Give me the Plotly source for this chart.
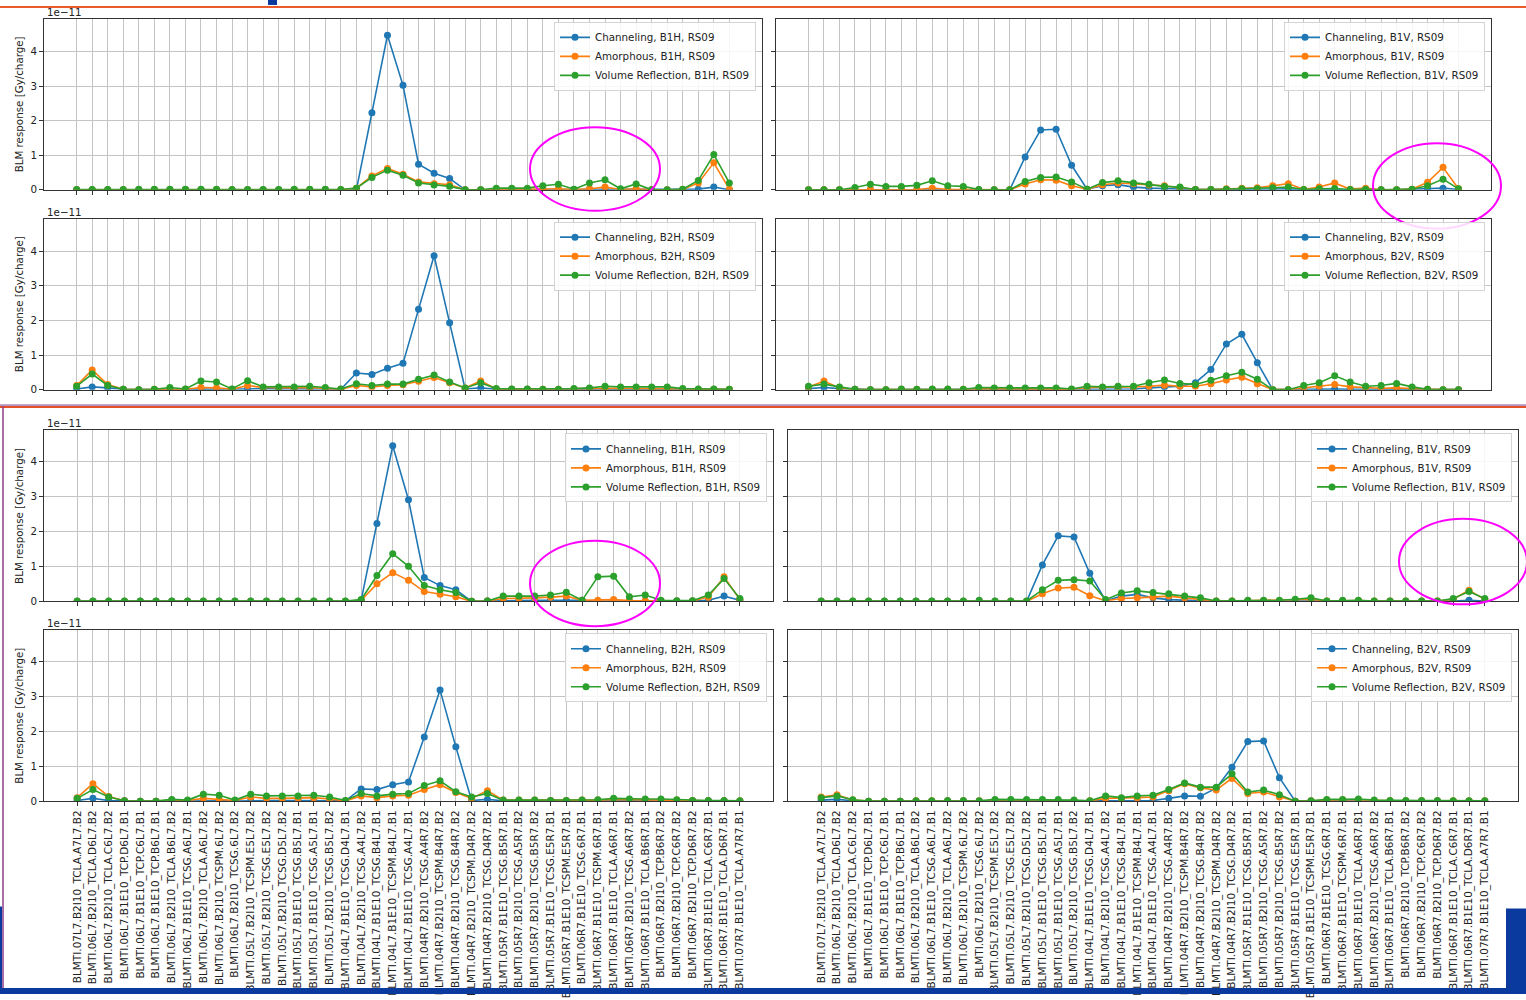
import plotly.graph_objects as go

W, H = 1526, 1000

# BLM monitors along IR7 (x axis categories)
monitors = [
    "BLMTI.07L7.B2I10_TCLA.A7L7.B2", "BLMTI.06L7.B2I10_TCLA.D6L7.B2", "BLMTI.06L7.B2I10_TCLA.C6L7.B2",
    "BLMTI.06L7.B1E10_TCP.D6L7.B1", "BLMTI.06L7.B1E10_TCP.C6L7.B1", "BLMTI.06L7.B1E10_TCP.B6L7.B1",
    "BLMTI.06L7.B2I10_TCLA.B6L7.B2", "BLMTI.06L7.B1E10_TCSG.A6L7.B1", "BLMTI.06L7.B2I10_TCLA.A6L7.B2",
    "BLMTI.06L7.B2I10_TCSPM.6L7.B2", "BLMTI.06L7.B2I10_TCSG.6L7.B2", "BLMTI.05L7.B2I10_TCSPM.E5L7.B2",
    "BLMTI.05L7.B2I10_TCSG.E5L7.B2", "BLMTI.05L7.B2I10_TCSG.D5L7.B2", "BLMTI.05L7.B1E10_TCSG.B5L7.B1",
    "BLMTI.05L7.B1E10_TCSG.A5L7.B1", "BLMTI.05L7.B2I10_TCSG.B5L7.B2", "BLMTI.04L7.B1E10_TCSG.D4L7.B1",
    "BLMTI.04L7.B2I10_TCSG.A4L7.B2", "BLMTI.04L7.B1E10_TCSG.B4L7.B1", "BLMTI.04L7.B1E10_TCSPM.B4L7.B1",
    "BLMTI.04L7.B1E10_TCSG.A4L7.B1", "BLMTI.04R7.B2I10_TCSG.A4R7.B2", "BLMTI.04R7.B2I10_TCSPM.B4R7.B2",
    "BLMTI.04R7.B2I10_TCSG.B4R7.B2", "BLMTI.04R7.B2I10_TCSPM.D4R7.B2", "BLMTI.04R7.B2I10_TCSG.D4R7.B2",
    "BLMTI.05R7.B1E10_TCSG.B5R7.B1", "BLMTI.05R7.B2I10_TCSG.A5R7.B2", "BLMTI.05R7.B2I10_TCSG.B5R7.B2",
    "BLMTI.05R7.B1E10_TCSG.E5R7.B1", "BLMTI.05R7.B1E10_TCSPM.E5R7.B1", "BLMTI.06R7.B1E10_TCSG.6R7.B1",
    "BLMTI.06R7.B1E10_TCSPM.6R7.B1", "BLMTI.06R7.B1E10_TCLA.A6R7.B1", "BLMTI.06R7.B2I10_TCSG.A6R7.B2",
    "BLMTI.06R7.B1E10_TCLA.B6R7.B1", "BLMTI.06R7.B2I10_TCP.B6R7.B2", "BLMTI.06R7.B2I10_TCP.C6R7.B2",
    "BLMTI.06R7.B2I10_TCP.D6R7.B2", "BLMTI.06R7.B1E10_TCLA.C6R7.B1", "BLMTI.06R7.B1E10_TCLA.D6R7.B1",
    "BLMTI.07R7.B1E10_TCLA.A7R7.B1",
]

# BLM response in units of 1e-11 Gy/charge -- first simulation set
b1h_ch_a = [0, 0, 0, 0, 0, 0, 0, 0, 0, 0, 0, 0, 0, 0, 0, 0, 0, 0, 0, 2.23, 4.47, 3.02, 0.74, 0.48, 0.33, 0, 0, 0, 0.01, 0.01, 0.02, 0.02, 0.01, 0.02, 0.02, 0.01, 0.01, 0, 0, 0.01, 0.02, 0.08, 0]
b1h_am_a = [0, 0, 0, 0, 0.01, 0.01, 0.01, 0.01, 0.01, 0.01, 0, 0, 0, 0, 0.01, 0.01, 0.01, 0, 0.05, 0.40, 0.62, 0.45, 0.23, 0.18, 0.15, 0, 0, 0.02, 0.02, 0.02, 0.02, 0.03, 0.01, 0.03, 0.08, 0.01, 0.03, 0, 0, 0.01, 0.20, 0.78, 0.02]
b1h_vr_a = [0.01, 0.01, 0.01, 0.01, 0.02, 0.02, 0.02, 0.02, 0.02, 0.02, 0.01, 0.01, 0.01, 0.01, 0.02, 0.02, 0.02, 0.01, 0.05, 0.36, 0.57, 0.42, 0.20, 0.14, 0.10, 0, 0, 0.05, 0.05, 0.05, 0.12, 0.16, 0.02, 0.20, 0.29, 0.03, 0.17, 0, 0, 0.02, 0.27, 1.02, 0.20]

b1v_ch_a = [0, 0, 0, 0, 0, 0, 0, 0, 0, 0, 0, 0, 0, 0, 0.95, 1.73, 1.75, 0.71, 0.02, 0.12, 0.15, 0.08, 0.05, 0.03, 0.02, 0.01, 0.01, 0.01, 0.01, 0.01, 0.02, 0.03, 0, 0.01, 0.01, 0, 0.01, 0, 0, 0.01, 0.02, 0.05, 0.01]
b1v_am_a = [0, 0, 0, 0.01, 0.02, 0.02, 0.01, 0.01, 0.05, 0.01, 0.01, 0, 0, 0, 0.17, 0.29, 0.28, 0.12, 0.02, 0.15, 0.20, 0.18, 0.14, 0.12, 0.06, 0.01, 0.01, 0.03, 0.05, 0.06, 0.12, 0.18, 0.01, 0.08, 0.20, 0.02, 0.05, 0, 0, 0.02, 0.22, 0.65, 0.03]
b1v_vr_a = [0, 0, 0, 0.07, 0.16, 0.10, 0.10, 0.13, 0.26, 0.12, 0.10, 0.01, 0, 0, 0.24, 0.36, 0.37, 0.23, 0.02, 0.21, 0.26, 0.20, 0.16, 0.10, 0.08, 0.01, 0.01, 0.02, 0.03, 0.03, 0.06, 0.08, 0.01, 0.03, 0.04, 0.01, 0.02, 0, 0, 0.02, 0.12, 0.31, 0.03]

b2h_ch_a = [0.02, 0.08, 0.05, 0.01, 0, 0, 0.01, 0.01, 0.01, 0.01, 0.01, 0.02, 0.03, 0.02, 0.02, 0.02, 0.02, 0.01, 0.48, 0.44, 0.62, 0.76, 2.32, 3.87, 1.93, 0.02, 0.05, 0.01, 0.01, 0.01, 0, 0, 0, 0, 0.01, 0.01, 0.01, 0.01, 0.01, 0, 0, 0, 0]
b2h_am_a = [0.12, 0.57, 0.15, 0.01, 0, 0.01, 0.02, 0.01, 0.06, 0.05, 0.01, 0.12, 0.06, 0.05, 0.05, 0.06, 0.04, 0.01, 0.12, 0.08, 0.12, 0.14, 0.24, 0.35, 0.20, 0.05, 0.25, 0.02, 0.01, 0.01, 0.01, 0.01, 0.02, 0.03, 0.04, 0.04, 0.04, 0.04, 0.04, 0.02, 0.01, 0.01, 0.01]
b2h_vr_a = [0.10, 0.45, 0.12, 0.01, 0, 0.01, 0.06, 0.02, 0.25, 0.22, 0.02, 0.26, 0.08, 0.08, 0.08, 0.10, 0.06, 0.02, 0.17, 0.12, 0.16, 0.16, 0.30, 0.42, 0.22, 0.05, 0.20, 0.03, 0.02, 0.02, 0.01, 0.01, 0.03, 0.05, 0.10, 0.08, 0.08, 0.08, 0.08, 0.03, 0.02, 0.02, 0.01]

b2v_ch_a = [0.03, 0.06, 0.03, 0.01, 0, 0, 0, 0, 0, 0, 0, 0.01, 0.01, 0.01, 0.01, 0.01, 0.01, 0, 0.02, 0.02, 0.02, 0.02, 0.05, 0.08, 0.10, 0.20, 0.58, 1.32, 1.60, 0.78, 0, 0, 0.01, 0.01, 0.02, 0.01, 0.01, 0.01, 0.01, 0, 0, 0, 0]
b2v_am_a = [0.08, 0.25, 0.05, 0.01, 0, 0, 0.01, 0.01, 0.01, 0.01, 0.01, 0.03, 0.03, 0.03, 0.03, 0.03, 0.03, 0.01, 0.06, 0.06, 0.08, 0.08, 0.10, 0.13, 0.10, 0.10, 0.17, 0.28, 0.36, 0.17, 0, 0, 0.05, 0.10, 0.15, 0.08, 0.05, 0.04, 0.05, 0.02, 0.01, 0, 0]
b2v_vr_a = [0.10, 0.16, 0.08, 0.01, 0, 0, 0.02, 0.01, 0.02, 0.02, 0.01, 0.06, 0.05, 0.05, 0.05, 0.05, 0.05, 0.02, 0.10, 0.08, 0.10, 0.10, 0.20, 0.28, 0.18, 0.15, 0.27, 0.40, 0.50, 0.30, 0, 0, 0.12, 0.20, 0.40, 0.22, 0.10, 0.12, 0.18, 0.08, 0.01, 0, 0]

# BLM response in units of 1e-11 Gy/charge -- second simulation set
b1h_ch_b = [0, 0, 0, 0, 0, 0, 0, 0, 0, 0, 0, 0, 0, 0, 0, 0, 0, 0, 0.03, 2.22, 4.44, 2.90, 0.68, 0.45, 0.33, 0, 0.01, 0.03, 0.03, 0.03, 0.03, 0.03, 0.03, 0, 0, 0, 0, 0.01, 0.01, 0.01, 0.03, 0.15, 0.03]
b1h_am_b = [0, 0, 0, 0, 0, 0, 0, 0, 0, 0, 0, 0, 0, 0, 0, 0, 0, 0, 0.03, 0.50, 0.82, 0.60, 0.28, 0.20, 0.13, 0, 0.01, 0.08, 0.08, 0.10, 0.12, 0.15, 0.03, 0.03, 0.05, 0.02, 0.02, 0.01, 0.01, 0.01, 0.12, 0.70, 0.05]
b1h_vr_b = [0.01, 0.01, 0.01, 0.01, 0.01, 0.01, 0.01, 0.01, 0.01, 0.01, 0.01, 0.01, 0.01, 0.01, 0.01, 0.01, 0.01, 0.01, 0.05, 0.74, 1.36, 1.00, 0.45, 0.33, 0.25, 0, 0.01, 0.15, 0.15, 0.15, 0.18, 0.26, 0.03, 0.70, 0.72, 0.13, 0.18, 0.03, 0.02, 0.02, 0.18, 0.65, 0.08]

b1v_ch_b = [0, 0, 0, 0, 0, 0, 0, 0, 0, 0, 0, 0, 0, 0, 1.04, 1.87, 1.84, 0.80, 0.02, 0.15, 0.20, 0.10, 0.05, 0.03, 0.01, 0, 0, 0.01, 0.01, 0.01, 0.01, 0.01, 0, 0.01, 0.01, 0, 0, 0, 0, 0, 0.01, 0.03, 0.01]
b1v_am_b = [0, 0, 0, 0, 0, 0, 0, 0, 0, 0, 0.01, 0, 0, 0, 0.22, 0.38, 0.40, 0.16, 0.02, 0.08, 0.10, 0.12, 0.15, 0.10, 0.06, 0.01, 0.01, 0.02, 0.02, 0.02, 0.04, 0.06, 0.01, 0.02, 0.02, 0.01, 0.01, 0.01, 0.01, 0.01, 0.06, 0.32, 0.05]
b1v_vr_b = [0.01, 0.01, 0.01, 0.01, 0.01, 0.01, 0.01, 0.01, 0.01, 0.01, 0.03, 0.01, 0.01, 0.01, 0.33, 0.60, 0.62, 0.58, 0.05, 0.24, 0.30, 0.25, 0.22, 0.15, 0.10, 0.01, 0.01, 0.03, 0.03, 0.03, 0.06, 0.10, 0.01, 0.03, 0.03, 0.01, 0.01, 0.01, 0.01, 0.01, 0.08, 0.28, 0.08]

b2h_ch_b = [0.02, 0.08, 0.02, 0.01, 0, 0, 0, 0, 0.01, 0.01, 0, 0.02, 0.02, 0.02, 0.02, 0.02, 0.02, 0.01, 0.35, 0.33, 0.47, 0.55, 1.83, 3.17, 1.55, 0.02, 0.05, 0.01, 0.01, 0.01, 0.01, 0.01, 0.01, 0.01, 0.01, 0.01, 0.01, 0.01, 0.01, 0.01, 0.01, 0.01, 0]
b2h_am_b = [0.10, 0.50, 0.13, 0.01, 0, 0, 0.03, 0.02, 0.08, 0.05, 0.02, 0.12, 0.08, 0.08, 0.08, 0.10, 0.06, 0.01, 0.15, 0.10, 0.15, 0.17, 0.33, 0.47, 0.25, 0.08, 0.30, 0.03, 0.03, 0.03, 0.02, 0.02, 0.03, 0.03, 0.05, 0.04, 0.04, 0.04, 0.03, 0.02, 0.01, 0.01, 0.01]
b2h_vr_b = [0.08, 0.33, 0.12, 0.01, 0, 0, 0.05, 0.03, 0.20, 0.17, 0.03, 0.20, 0.15, 0.15, 0.15, 0.17, 0.12, 0.02, 0.22, 0.15, 0.20, 0.22, 0.45, 0.58, 0.27, 0.12, 0.22, 0.03, 0.03, 0.03, 0.02, 0.02, 0.03, 0.04, 0.08, 0.06, 0.06, 0.06, 0.04, 0.02, 0.02, 0.02, 0.01]

b2v_ch_b = [0.03, 0.05, 0.01, 0, 0, 0, 0, 0, 0, 0, 0, 0, 0, 0, 0, 0, 0, 0, 0.02, 0.02, 0.02, 0.02, 0.08, 0.15, 0.14, 0.37, 0.97, 1.70, 1.72, 0.67, 0, 0, 0, 0, 0, 0, 0, 0, 0, 0, 0, 0, 0]
b2v_am_b = [0.12, 0.18, 0.03, 0, 0, 0, 0.01, 0.01, 0.01, 0.01, 0.01, 0.02, 0.02, 0.02, 0.02, 0.02, 0.02, 0.01, 0.08, 0.08, 0.10, 0.12, 0.30, 0.50, 0.38, 0.32, 0.65, 0.22, 0.26, 0.12, 0, 0.01, 0.03, 0.04, 0.04, 0.02, 0.01, 0.01, 0.01, 0.01, 0.01, 0.01, 0.01]
b2v_vr_b = [0.10, 0.15, 0.04, 0, 0, 0, 0.01, 0.01, 0.02, 0.02, 0.01, 0.05, 0.05, 0.05, 0.05, 0.05, 0.03, 0.01, 0.15, 0.10, 0.15, 0.17, 0.33, 0.52, 0.40, 0.40, 0.78, 0.26, 0.32, 0.18, 0, 0.01, 0.05, 0.05, 0.06, 0.03, 0.02, 0.02, 0.02, 0.02, 0.01, 0.01, 0.01]

COLORS = ["#1f77b4", "#ff7f0e", "#2ca02c"]
MODES = ["Channeling", "Amorphous", "Volume Reflection"]
FONT = "DejaVu Sans"


def fx(px):
    return px / W


def fy(py):
    return 1 - py / H


# panel geometry in pixels: (series, plane, left, right, top, bottom, y max, left column, labelled x)
panels = [
    ((b1h_ch_a, b1h_am_a, b1h_vr_a), "B1H", 44, 762, 19, 191, 4.94, True, False),
    ((b1v_ch_a, b1v_am_a, b1v_vr_a), "B1V", 776, 1491, 19, 191, 4.94, False, False),
    ((b2h_ch_a, b2h_am_a, b2h_vr_a), "B2H", 44, 762, 220, 392, 4.94, True, False),
    ((b2v_ch_a, b2v_am_a, b2v_vr_a), "B2V", 776, 1491, 220, 392, 4.94, False, False),
    ((b1h_ch_b, b1h_am_b, b1h_vr_b), "B1H", 44, 773, 433, 605, 4.88, True, False),
    ((b1v_ch_b, b1v_am_b, b1v_vr_b), "B1V", 788, 1518, 433, 605, 4.88, False, False),
    ((b2h_ch_b, b2h_am_b, b2h_vr_b), "B2H", 44, 773, 634, 806, 4.88, True, True),
    ((b2v_ch_b, b2v_am_b, b2v_vr_b), "B2V", 788, 1518, 634, 806, 4.88, False, True),
]

fig = go.Figure()
layout = {}
annotations = []
xs = list(range(len(monitors)))

for k, (series, plane, x0, x1, y0, y1, ymax, left_col, labelled) in enumerate(panels, start=1):
    sfx = "" if k == 1 else str(k)
    legend_id = "legend" + sfx
    for mode, vals, col in zip(MODES, series, COLORS):
        fig.add_trace(go.Scatter(
            x=xs, y=vals, mode="lines+markers",
            name=f"{mode}, {plane}, RS09",
            line=dict(color=col, width=1.6),
            marker=dict(color=col, size=7),
            xaxis="x" + sfx, yaxis="y" + sfx,
            legend=legend_id,
        ))

    layout["xaxis" + sfx] = dict(
        domain=[fx(x0), fx(x1)], anchor="y" + sfx, range=[-2.1, 44.1],
        tickmode="array", tickvals=xs, ticktext=monitors,
        showticklabels=labelled, tickangle=-90,
        tickfont=dict(family=FONT, size=10.5, color="#222"),
        ticks="outside", ticklen=4, tickcolor="#333",
        showgrid=True, gridcolor="#c4c4c4", gridwidth=1,
        showline=True, linecolor="#333", linewidth=1, mirror=True,
        zeroline=False, fixedrange=True,
    )
    layout["yaxis" + sfx] = dict(
        domain=[fy(y1), fy(y0)], anchor="x" + sfx, range=[0, ymax],
        tickmode="array", tickvals=[0, 1, 2, 3, 4],
        showticklabels=left_col,
        tickfont=dict(family=FONT, size=10.3, color="#222"),
        ticks="outside", ticklen=4, tickcolor="#333",
        showgrid=True, gridcolor="#c4c4c4", gridwidth=1,
        showline=True, linecolor="#333", linewidth=1, mirror=True,
        zeroline=False, fixedrange=True,
    )
    layout[legend_id] = dict(
        x=fx(x1 - 6), y=fy(y0 + 3), xanchor="right", yanchor="top",
        bgcolor="rgba(255,255,255,0.85)", bordercolor="#d4d4d4", borderwidth=1,
        font=dict(family=FONT, size=10.3, color="#222"),
        tracegroupgap=0, itemwidth=30,
    )
    if left_col:
        annotations.append(dict(
            text="1e\u221211", x=fx(x0 + 1), y=fy(y0 - 7), xref="paper", yref="paper",
            xanchor="left", yanchor="middle", showarrow=False,
            font=dict(family=FONT, size=10.3, color="#222"),
        ))
        annotations.append(dict(
            text="BLM response [Gy/charge]", x=fx(19), y=fy((y0 + y1) / 2),
            xref="paper", yref="paper", xanchor="center", yanchor="middle",
            textangle=-90, showarrow=False,
            font=dict(family=FONT, size=10.3, color="#222"),
        ))

# slide decorations: header rule, frame lines, footer bar and highlight ellipses
shapes = [
    dict(type="line", x0=0, x1=1, y0=fy(7), y1=fy(7), line=dict(color="#EC5B2B", width=2)),
    dict(type="rect", x0=fx(268), x1=fx(277), y0=fy(0), y1=fy(5), fillcolor="#0B3A9E", line_width=0),
    dict(type="line", x0=0, x1=1, y0=fy(407.5), y1=fy(407.5), line=dict(color="#7B3F8F", width=1)),
    dict(type="line", x0=0, x1=1, y0=fy(409.5), y1=fy(409.5), line=dict(color="#E4502C", width=2)),
    dict(type="rect", x0=0, x1=fx(2), y0=fy(995), y1=fy(912), fillcolor="#0B3A9E", line_width=0),
    dict(type="line", x0=fx(3), x1=fx(3), y0=fy(409), y1=fy(995), line=dict(color="#8E3B86", width=1.5)),
    dict(type="rect", x0=fx(1506), x1=1, y0=fy(994), y1=fy(914), fillcolor="#0B3A9E", line_width=0),
    dict(type="rect", x0=0, x1=1, y0=0, y1=fy(994), fillcolor="#0B3A9E", line_width=0),
]
for cx, cy, rx, ry in [(595, 170, 65, 42), (1437, 187, 64, 43), (595, 587, 65, 43), (1463, 565, 64, 43)]:
    shapes.append(dict(type="circle", xref="paper", yref="paper",
                       x0=fx(cx - rx), x1=fx(cx + rx), y0=fy(cy + ry), y1=fy(cy - ry),
                       line=dict(color="#FF00FF", width=2), layer="above"))
for s in shapes:
    s.setdefault("xref", "paper")
    s.setdefault("yref", "paper")
    s.setdefault("layer", "above")

fig.update_layout(
    width=W, height=H, autosize=False,
    margin=dict(l=0, r=0, t=0, b=0),
    paper_bgcolor="white", plot_bgcolor="white",
    font=dict(family=FONT, size=10.3, color="#222"),
    annotations=annotations, shapes=shapes,
    **layout,
)

fig.write_html("out.html")
